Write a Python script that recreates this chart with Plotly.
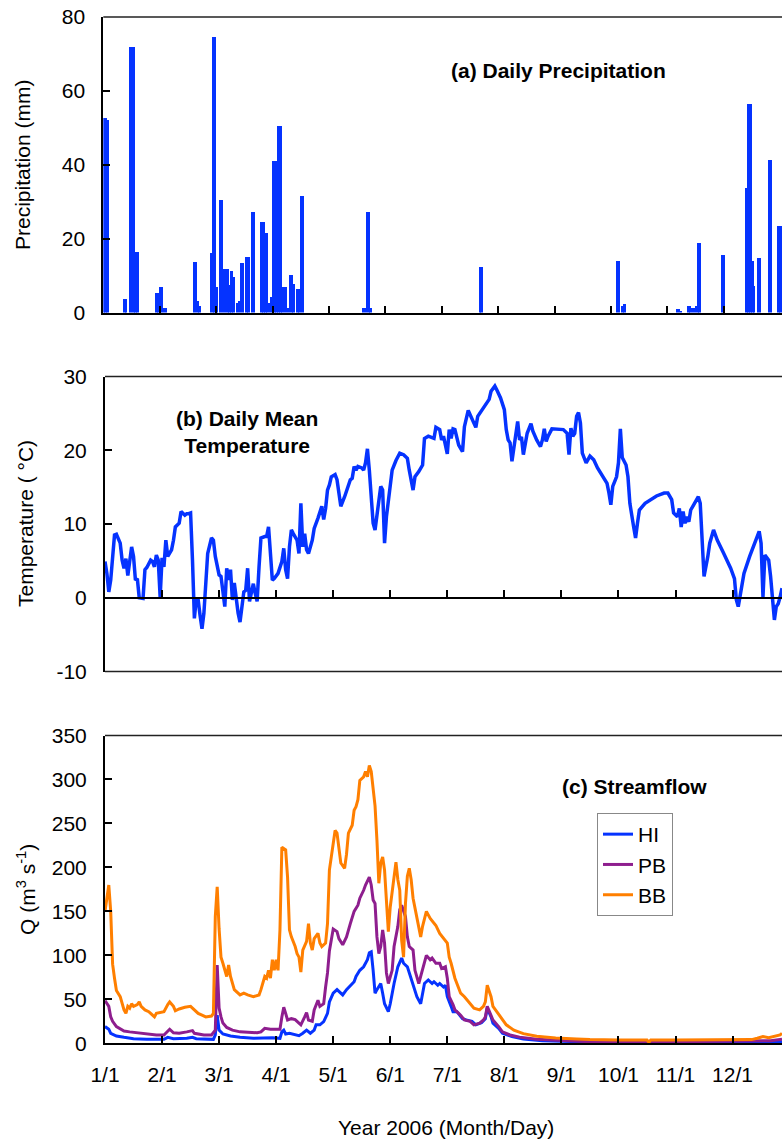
import plotly.graph_objects as go

W, H = 782, 1139
BLUE = "#0533ff"
PURPLE = "#8e1e8e"
ORANGE = "#ff7f00"
FONT = "Liberation Sans, Arial, sans-serif"

# ---------------- data ----------------
month_ticks = [0, 30, 60, 90, 120, 150, 180, 210, 240, 270, 300, 330]
month_labels = ["1/1", "2/1", "3/1", "4/1", "5/1", "6/1", "7/1", "8/1", "9/1", "10/1", "11/1", "12/1"]

precip_day = [0, 1, 2, 11, 12, 14, 15, 16, 17, 18, 28, 29, 30, 31, 32, 33, 48, 49, 50, 51,
              57, 58, 59, 60, 62, 63, 64, 65, 66, 67, 68, 69, 71, 72, 73, 74, 76, 77, 79, 80,
              84, 85, 86, 87, 88, 89, 90, 91, 92, 93, 94, 95, 96, 97, 98, 99, 100, 101, 103, 104,
              105, 106, 138, 139, 140, 141, 142, 200, 201, 273, 274, 276, 277, 305, 306, 307,
              311, 312, 313, 314, 315, 316, 317, 329, 330, 342, 343, 344, 345, 346, 348, 349,
              354, 355, 359, 360]
precip_mm = [52.6, 52.6, 52.0, 3.7, 3.7, 72.0, 72.0, 72.0, 16.3, 16.3, 5.3, 5.3, 6.8, 6.8, 1.3, 1.3, 13.6, 13.6, 3.1, 1.8,
             16.0, 74.7, 74.7, 6.8, 30.4, 30.4, 11.7, 11.7, 11.7, 7.4, 11.3, 9.7, 2.5, 3.0, 13.3, 13.3, 15.0, 15.0, 27.2, 27.2,
             24.4, 24.4, 21.5, 21.5, 2.7, 4.3, 40.9, 40.9, 40.9, 50.6, 50.6, 6.8, 6.8, 6.8, 1.2, 10.1, 10.1, 7.6, 6.4, 6.4,
             31.5, 31.5, 1.3, 1.3, 27.2, 27.2, 1.3, 12.4, 12.4, 14.0, 14.0, 1.8, 2.2, 0.9, 0.9, 0.5,
             1.8, 1.8, 1.2, 1.2, 1.8, 18.7, 18.7, 15.6, 15.6, 33.6, 56.4, 56.4, 14.0, 7.3, 14.7, 14.7,
             41.3, 41.3, 23.5, 23.5]

temp_day = [0, 1, 2, 3, 5, 6, 8, 9, 10, 11, 12, 14, 15, 16, 17, 18, 20, 21, 22, 24, 25, 26, 27, 28, 29, 30,
            31, 32, 33, 35, 36, 37, 39, 40, 42, 43, 44, 45, 46, 47, 48, 49, 50, 51, 52, 53, 54, 56, 57, 58,
            60, 61, 62, 63, 64, 65, 66, 67, 68, 69, 70, 71, 72, 73, 74, 75, 76, 77, 78, 79, 80, 81, 82, 84,
            85, 86, 87, 88, 89, 91, 93, 94, 95, 96, 97, 98, 99, 101, 102, 103, 104, 105, 106, 107, 109, 110,
            112, 114, 115, 116, 117, 118, 119, 121, 122, 123, 124, 126, 128, 129, 130, 131, 132, 133, 135,
            136, 137, 138, 139, 140, 141, 142, 144, 145, 146, 147, 148, 149, 151, 153, 155, 157, 159, 160,
            162, 163, 165, 167, 168, 170, 173, 174, 176, 177, 178, 180, 181, 182, 183, 184, 185, 186, 188,
            189, 191, 192, 194, 195, 196, 199, 202, 203, 205, 206, 208, 210, 211, 212, 213, 214, 215, 217,
            218, 219, 220, 221, 222, 224, 225, 227, 229, 230, 231, 232, 233, 235, 238, 241, 243, 244, 245,
            246, 247, 248, 249, 250, 251, 253, 255, 257, 259, 262, 264, 265, 266, 267, 269, 270, 271, 272,
            274, 275, 276, 278, 279, 280, 281, 284, 287, 290, 294, 296, 298, 299, 301, 302, 303, 304, 305,
            306, 307, 308, 310, 312, 313, 314, 315, 317, 318, 320, 322, 325, 328, 329, 331, 332, 333, 334,
            336, 339, 342, 344, 345, 346, 347, 349, 350, 351, 352, 353, 354, 355, 356]
temp_c = [4.9, 3.3, 0.8, 2.4, 8.5, 8.6, 7.4, 5.1, 4.0, 5.3, 3.0, 6.9, 5.6, 2.4, 2.6, 0.0, -0.1, 3.8, 4.1, 5.1, 4.9, 4.2, 5.8, 5.1, 0.1, 5.4,
          4.2, 7.8, 5.6, 6.5, 7.8, 9.6, 10.1, 11.7, 11.2, 11.4, 11.4, 11.5, 5.1, -2.8, -0.1, -0.3, -2.4, -4.2, -2.1, 2.9, 6.0, 8.1, 7.8, 5.6,
          3.1, 2.9, 0.6, -1.2, 4.0, 2.4, 3.8, -0.3, 2.0, -0.1, -2.1, -3.3, -1.2, 0.8, 1.0, 4.0, -0.5, 0.6, 1.9, 0.6, -0.5, 4.2, 8.1, 8.3,
          8.3, 9.6, 5.1, 2.4, 2.6, 3.3, 4.9, 6.7, 3.8, 2.6, 6.9, 9.2, 8.7, 7.8, 6.0, 12.8, 6.9, 8.7, 6.5, 6.0, 7.8, 9.4,
          10.8, 12.4, 10.6, 12.1, 14.6, 15.3, 16.4, 16.7, 16.0, 13.7, 12.4, 13.7, 15.5, 16.0, 16.2, 17.8, 17.3, 17.8, 17.6,
          17.3, 18.3, 20.2, 17.3, 13.3, 10.1, 9.2, 13.3, 15.1, 14.6, 7.4, 11.0, 13.3, 17.3, 18.6, 19.6, 19.4, 18.9, 17.3,
          14.6, 16.4, 17.1, 18.0, 21.6, 21.9, 21.6, 23.1, 22.8, 21.4, 21.9, 19.5, 22.8, 21.6, 22.9, 22.8, 21.6, 20.7, 19.8,
          23.2, 25.4, 24.8, 23.5, 23.1, 24.6, 25.7, 26.9, 28.0, 28.7, 28.2, 27.1, 25.5, 22.8, 21.4, 21.0, 18.5, 20.5, 23.9,
          21.4, 21.8, 19.4, 21.2, 22.3, 23.6, 22.6, 21.4, 20.5, 21.4, 22.9, 21.2, 21.9, 22.9, 22.9, 22.8, 22.3, 19.4, 23.0,
          21.9, 22.3, 24.6, 25.1, 23.7, 19.6, 18.3, 19.2, 18.7, 17.6, 16.4, 15.5, 14.2, 12.6, 15.1, 16.4, 18.3, 22.9, 19.0,
          18.0, 16.4, 12.8, 9.6, 8.1, 10.1, 11.9, 12.8, 13.3, 13.8, 14.2, 14.2, 13.3, 11.5, 11.0, 12.1, 9.6, 11.7, 10.1,
          11.0, 10.3, 11.9, 12.8, 13.7, 12.8, 8.3, 2.9, 5.6, 7.4, 9.2, 7.8, 6.2, 4.7, 4.0, 2.6, -0.3, -1.2, 0.1,
          3.3, 5.6, 7.6, 9.0, 7.4, 0.1, 5.8, 5.1, 2.9, 0.1, -3.0, -1.2, -0.8, 0.1, 1.3]

hi_day = [0, 2, 3, 6, 10, 15, 22, 31, 33, 36, 43, 46, 48, 57, 58, 59, 60, 62, 66, 71, 78, 83, 88, 92, 93, 94,
          95, 97, 100, 102, 104, 106, 108, 110, 111, 113, 115, 117, 118, 120, 122, 124, 125, 127, 129, 131, 132,
          134, 136, 138, 139, 140, 141, 142, 143, 145, 146, 147, 149, 150, 152, 154, 156, 157, 159, 160, 162,
          164, 166, 167, 168, 170, 172, 173, 175, 176, 178, 179, 180, 182, 183, 185, 187, 188, 190, 193, 195,
          198, 200, 201, 203, 204, 207, 209, 214, 220, 230, 244, 255, 300, 320, 356]
hi_q = [19, 16, 11.4, 8.3, 6.8, 5.3, 4.5, 4.5, 6.8, 5.3, 5.7, 6.8, 5.3, 4.5, 9.5, 32, 15, 10.6, 8.3, 6.8, 5.7, 6.4, 6.4, 5.7, 13, 15,
        10.6, 11.4, 9.5, 8.7, 11.4, 15, 11.4, 15, 21, 21, 24.6, 34, 47, 57, 61, 57, 55, 61, 66, 70, 76,
        83, 87, 95, 103, 104, 83, 57, 61, 68, 57, 45, 36, 45, 68, 87, 97, 91, 87, 80, 68,
        53, 45, 57, 68, 72, 68, 70, 66, 68, 64, 66, 53, 42, 36, 36, 30, 28, 26.5, 25, 21,
        23.5, 28, 40, 30, 23, 17, 11.4, 7.6, 4.9, 3, 1.9, 1.5, 1.0, 1.5, 1.9]

pb_day = [0, 2, 3, 4, 6, 8, 10, 13, 17, 22, 27, 31, 33, 34, 36, 39, 43, 46, 47, 52, 56, 58, 59, 60, 61, 62,
          64, 67, 71, 75, 80, 82, 84, 87, 90, 92, 93, 94, 95, 96, 98, 100, 102, 103, 105, 106, 107, 109, 110,
          112, 113, 115, 116, 117, 118, 119, 120, 122, 123, 125, 127, 129, 131, 133, 134, 136, 137, 139, 140,
          141, 142, 143, 144, 145, 146, 147, 148, 149, 151, 152, 154, 155, 156, 158, 159, 160, 162, 163, 165,
          166, 168, 169, 171, 172, 174, 176, 177, 179, 180, 181, 183, 184, 186, 187, 189, 192, 194, 197, 199,
          200, 201, 203, 204, 207, 209, 213, 218, 227, 241, 255, 300, 345, 350, 356]
pb_q = [48.5, 42, 30, 25, 19, 16, 14, 13, 12, 10.6, 9.5, 9.5, 14.4, 16, 12, 11.4, 13, 14.4, 11.4, 9.5, 9.5, 15, 89, 40, 30, 23,
        18, 15, 13, 12.5, 12, 13, 17, 16, 16.3, 16, 30, 41, 34, 26.5, 28, 27, 23, 21, 30, 35, 26.5, 25, 38,
        49, 42, 45, 64, 80, 105, 117, 130, 127, 119, 112, 121, 136, 150, 157, 165, 174, 180, 189, 180,
        163, 159, 121, 102, 110, 129, 114, 80, 68, 83, 110, 133, 152, 157, 144, 121, 110, 106, 83, 68,
        76, 91, 100, 95, 97, 91, 91, 85, 87, 74, 53, 44, 38, 34, 32, 26.5, 25, 21, 23, 26.5,
        30, 42, 32, 26.5, 19, 13, 9.5, 7, 4.5, 3, 1.9, 1.9, 2.2, 3, 4.5]

bb_day = [0, 1, 2, 3, 4, 5, 6, 8, 9, 10, 11, 12, 13, 14, 15, 17, 18, 19, 21, 23, 24, 26, 27, 29, 31, 33, 34, 36,
          37, 39, 42, 45, 47, 49, 51, 53, 56, 57, 58, 59, 60, 61, 62, 64, 65, 66, 68, 71, 73, 75, 78, 81, 82,
          84, 85, 86, 87, 88, 89, 90, 91, 92, 93, 95, 96, 97, 98, 100, 101, 102, 103, 104, 106, 107, 108, 109,
          110, 112, 113, 114, 116, 117, 118, 120, 121, 122, 123, 124, 126, 127, 128, 130, 131, 132, 133, 134,
          136, 137, 138, 139, 140, 141, 142, 143, 144, 145, 146, 147, 148, 149, 150, 152, 153, 154, 155, 156,
          157, 158, 159, 160, 161, 162, 164, 166, 167, 169, 171, 173, 174, 176, 178, 180, 181, 182, 184, 186,
          187, 189, 192, 194, 197, 199, 200, 201, 203, 204, 206, 209, 211, 215, 220, 227, 237, 248, 255, 270,
          285, 286, 287, 300, 320, 340, 343, 346, 349, 353, 355, 356]
bb_q = [150, 165, 180, 150, 90, 74, 60, 53, 45, 38, 34, 42, 40, 45, 42, 44, 47, 42, 38, 36, 34, 30, 34, 35, 36, 44, 47, 42,
        37, 39, 41, 42, 38, 34, 32, 30, 31, 34, 144, 178, 130, 98, 91, 76, 89, 76, 61, 55, 57, 55, 53, 55, 61,
        76, 74, 83, 74, 95, 83, 95, 83, 129, 223, 220, 189, 129, 121, 110, 102, 98, 81, 106, 116, 136, 114, 106,
        119, 125, 114, 110, 114, 136, 197, 231, 242, 239, 220, 205, 199, 215, 239, 248, 265, 269, 277, 299,
        303, 309, 303, 316, 309, 285, 270, 231, 182, 205, 212, 197, 155, 127, 155, 189, 206, 186, 174, 117,
        98, 159, 190, 199, 186, 165, 144, 121, 133, 150, 142, 136, 134, 125, 119, 114, 98, 91, 74, 64,
        57, 53, 45, 40, 38, 42, 47, 66, 53, 42, 36, 27, 21, 15, 11, 8, 6, 5, 4.2, 3.8,
        3.8, 1.2, 3.8, 3.8, 3.8, 4.2, 5.7, 7.6, 6.4, 8.3, 9.5, 11.4]

# ---------------- layout helpers (pixel -> paper) ----------------
def ydom(top_px, bottom_px):
    return [1 - bottom_px / H, 1 - top_px / H]

def px_x(x):
    return x / W

def px_y(y):
    return 1 - y / H

dom_a = ydom(17, 312.5)
dom_b = ydom(376.5, 671.5)
dom_c = ydom(735.5, 1043.3)
temp_range = [-10, 30]
zero_pos_b = dom_b[0] + (0 - temp_range[0]) / (temp_range[1] - temp_range[0]) * (dom_b[1] - dom_b[0])

fig = go.Figure()

fig.add_trace(go.Bar(x=precip_day, y=precip_mm, xaxis="x", yaxis="y", width=1, offset=0,
                     marker=dict(color=BLUE, line=dict(width=0)), showlegend=False))

fig.add_trace(go.Scatter(x=temp_day, y=temp_c, xaxis="x2", yaxis="y2", mode="lines",
                         line=dict(color=BLUE, width=3.5), showlegend=False))

for name, d, q, c in [("HI", hi_day, hi_q, BLUE), ("PB", pb_day, pb_q, PURPLE), ("BB", bb_day, bb_q, ORANGE)]:
    fig.add_trace(go.Scatter(x=d, y=q, xaxis="x3", yaxis="y3", mode="lines", name=name,
                             line=dict(color=c, width=3)))

axis_common = dict(showgrid=False, zeroline=False, showline=True, linecolor="black", linewidth=2,
                   ticks="inside", ticklen=7, tickwidth=2, tickcolor="black",
                   tickfont=dict(family=FONT, size=21, color="black"))

fig.update_layout(
    width=W, height=H, template="none",
    margin=dict(l=0, r=0, t=0, b=0, pad=0),
    paper_bgcolor="white", plot_bgcolor="white",
    font=dict(family=FONT, size=21, color="black"),
    bargap=0,
    xaxis=dict(domain=[px_x(103.3), 1], range=[0, 361], anchor="y", tickvals=month_ticks,
               showticklabels=False, **axis_common),
    yaxis=dict(domain=dom_a, range=[0, 80], anchor="x", tickvals=[0, 20, 40, 60, 80],
               ticklabelstandoff=12, **axis_common),
    xaxis2=dict(domain=[px_x(105), 1], range=[0, 356], anchor="free", position=zero_pos_b,
                tickvals=month_ticks, showticklabels=False, **axis_common),
    yaxis2=dict(domain=dom_b, range=temp_range, anchor="x2", tickvals=[-10, 0, 10, 20, 30],
                ticktext=["-10", "0", "10", "20", "30"], ticklabelstandoff=12, **axis_common),
    xaxis3=dict(domain=[px_x(105), 1], range=[0, 356], anchor="y3", tickvals=month_ticks,
                ticktext=month_labels, ticklabelstandoff=11, **axis_common),
    yaxis3=dict(domain=dom_c, range=[0, 350], anchor="x3", tickvals=list(range(0, 351, 50)),
                ticklabelstandoff=12, **axis_common),
    legend=dict(x=px_x(597), y=px_y(813), xanchor="left", yanchor="top",
                bgcolor="white", bordercolor="#888888", borderwidth=1,
                font=dict(family=FONT, size=21, color="black"), tracegroupgap=0, itemwidth=30),
    showlegend=True,
)

# frame lines (top of each panel, bottom of panel b)
shapes = []
for xr, yr in [("x", "y"), ("x2", "y2"), ("x3", "y3")]:
    shapes.append(dict(type="line", xref=f"{xr} domain", yref=f"{yr} domain", x0=0, x1=1, y0=1, y1=1,
                       line=dict(color="#222222", width=1.5)))
shapes.append(dict(type="line", xref="x2 domain", yref="y2 domain", x0=0, x1=1, y0=0, y1=0,
                   line=dict(color="#222222", width=1.5)))
fig.update_layout(shapes=shapes)

ann = []
ann.append(dict(text="<b>(a) Daily Precipitation</b>", x=px_x(558.5), y=px_y(70), xref="paper", yref="paper",
                showarrow=False, xanchor="center", yanchor="middle", font=dict(size=21)))
ann.append(dict(text="<b>(b) Daily Mean<br>Temperature</b>", x=px_x(247), y=px_y(432), xref="paper", yref="paper",
                showarrow=False, xanchor="center", yanchor="middle", font=dict(size=21)))
ann.append(dict(text="<b>(c) Streamflow</b>", x=px_x(634.7), y=px_y(786), xref="paper", yref="paper",
                showarrow=False, xanchor="center", yanchor="middle", font=dict(size=21)))
ann.append(dict(text="Precipitation (mm)", x=px_x(23), y=px_y(165), xref="paper", yref="paper",
                showarrow=False, textangle=-90, xanchor="center", yanchor="middle", font=dict(size=21)))
ann.append(dict(text="Temperature ( °C)", x=px_x(25), y=px_y(524), xref="paper", yref="paper",
                showarrow=False, textangle=-90, xanchor="center", yanchor="middle", font=dict(size=21)))
ann.append(dict(text="Q (m<sup>3</sup> s<sup>-1</sup>)", x=px_x(26), y=px_y(890), xref="paper", yref="paper",
                showarrow=False, textangle=-90, xanchor="center", yanchor="middle", font=dict(size=21)))
ann.append(dict(text="Year 2006 (Month/Day)", x=px_x(446), y=px_y(1127), xref="paper", yref="paper",
                showarrow=False, xanchor="center", yanchor="middle", font=dict(size=21)))
fig.update_layout(annotations=ann)

fig.write_html("out.html")
